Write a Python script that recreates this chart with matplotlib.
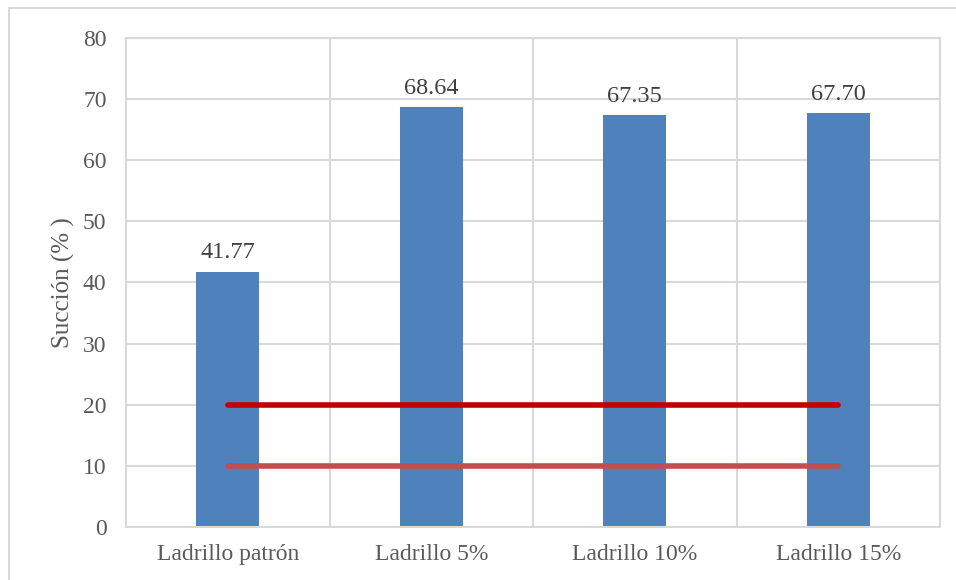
import matplotlib
matplotlib.use('Agg')
import matplotlib.pyplot as plt
from matplotlib.patches import Rectangle

categorias = ['Ladrillo patrón', 'Ladrillo 5%', 'Ladrillo 10%', 'Ladrillo 15%']
succion = [41.77, 68.64, 67.35, 67.70]
limite_sup = [20, 20, 20, 20]
limite_inf = [10, 10, 10, 10]

plt.rcParams['font.family'] = ['Liberation Serif', 'DejaVu Serif']
gris = '#595959'

fig = plt.figure(figsize=(9.56, 5.8), dpi=100)
ax = fig.add_axes([0.1318, 0.0914, 0.8515, 0.8431])

# marco exterior del grafico
fig.patches.append(Rectangle((9 / 956, -0.1), 1.2, (580 - 8) / 580 + 0.1,
                             transform=fig.transFigure, fill=False,
                             edgecolor='#d9d9d9', linewidth=1.5))

x = list(range(len(categorias)))
ax.bar(x, succion, width=0.31, color='#4f81bd', zorder=2)
for xi, v in zip(x, succion):
    ax.text(xi, v + 1.4, '%.2f' % v, ha='center', va='bottom', fontsize=17.5, color='#404040')

ax.plot(x, limite_sup, color='#c00000', linewidth=4, solid_capstyle='round', zorder=3)
ax.plot(x, limite_inf, color='#c0504d', linewidth=4, solid_capstyle='round', zorder=3)

ax.set_xlim(-0.5, 3.5)
ax.set_ylim(0, 80)
ax.set_yticks(range(0, 81, 10))
ax.set_xticks(x)
ax.set_xticklabels(categorias)
ax.tick_params(axis='y', labelsize=17, colors=gris, length=0, pad=14)
ax.tick_params(axis='x', labelsize=17, colors=gris, length=0, pad=12)

ax.grid(axis='y', color='#d9d9d9', linewidth=1.5, zorder=0)
for b in [0.5, 1.5, 2.5]:
    ax.axvline(b, color='#d9d9d9', linewidth=1.5, zorder=0)
for s in ax.spines.values():
    s.set_color('#d9d9d9')
    s.set_linewidth(1.5)

ax.set_ylabel('Succión (% )', fontsize=18, color=gris, labelpad=6)

plt.savefig('out.png', dpi=100)
